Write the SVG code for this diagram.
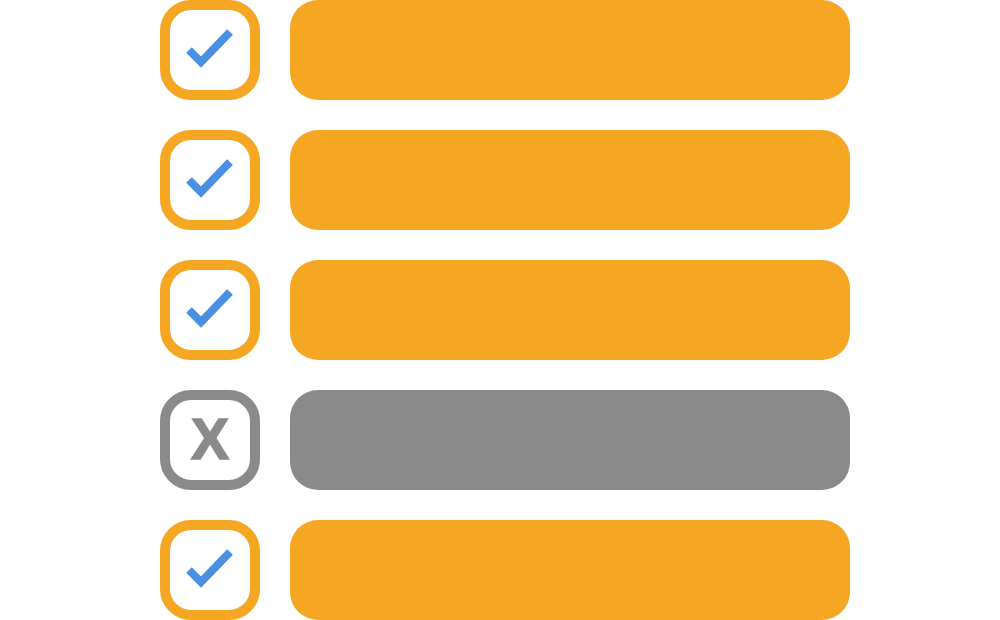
<svg xmlns="http://www.w3.org/2000/svg" width="1000" height="620" viewBox="0 0 1000 620">
<defs>
<style>
.box{fill:#fff;stroke-width:10}
.on .box{stroke:#F5A623}
.on .bar{fill:#F5A623}
.off .box{stroke:#8A8A8A}
.off .bar{fill:#8A8A8A}
.chk{fill:none;stroke:#4A90E2;stroke-width:8}
.x{font-family:"Liberation Sans",Arial,sans-serif;font-weight:bold;font-size:57px;fill:#8A8A8A;stroke:#8A8A8A;stroke-width:1.6;text-anchor:middle}
</style>
</defs>
<rect width="1000" height="620" fill="#fff"/>
<g id="row1" class="on" transform="translate(0,0)">
<rect class="box" x="165" y="5" width="90" height="90" rx="26"/>
<polyline class="chk" points="189,50 201,62 230,32"/>
<rect class="bar" x="290" y="0" width="560" height="100" rx="28"/>
</g>
<g id="row2" class="on" transform="translate(0,130)">
<rect class="box" x="165" y="5" width="90" height="90" rx="26"/>
<polyline class="chk" points="189,50 201,62 230,32"/>
<rect class="bar" x="290" y="0" width="560" height="100" rx="28"/>
</g>
<g id="row3" class="on" transform="translate(0,260)">
<rect class="box" x="165" y="5" width="90" height="90" rx="26"/>
<polyline class="chk" points="189,50 201,62 230,32"/>
<rect class="bar" x="290" y="0" width="560" height="100" rx="28"/>
</g>
<g id="row4" class="off" transform="translate(0,390)">
<rect class="box" x="165" y="5" width="90" height="90" rx="26"/>
<text class="x" x="210" y="69">X</text>
<rect class="bar" x="290" y="0" width="560" height="100" rx="28"/>
</g>
<g id="row5" class="on" transform="translate(0,520)">
<rect class="box" x="165" y="5" width="90" height="90" rx="26"/>
<polyline class="chk" points="189,50 201,62 230,32"/>
<rect class="bar" x="290" y="0" width="560" height="100" rx="28"/>
</g>
</svg>
